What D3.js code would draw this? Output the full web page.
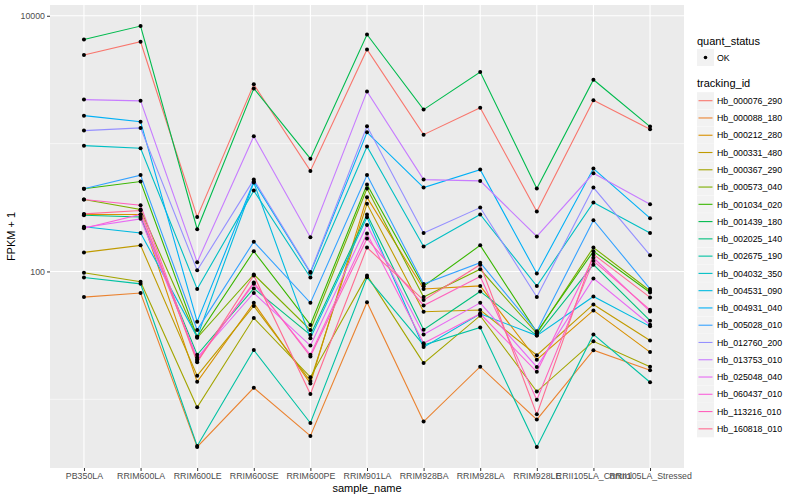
<!DOCTYPE html>
<meta charset="utf-8">

<!-- Load d3.js -->
<script src="https://d3js.org/d3.v7.min.js"></script>

<style>
  body { margin: 0; background: #fff; }
  text { font-family: "Liberation Sans", Arial, Helvetica, sans-serif; }
</style>

<!-- Create a div where the graph will take place -->
<div id="my_dataviz"></div>

<script>

// sample names on the x axis
var samples = ["PB350LA", "RRIM600LA", "RRIM600LE", "RRIM600SE", "RRIM600PE", "RRIM901LA",
               "RRIM928BA", "RRIM928LA", "RRIM928LE", "RRII105LA_Control", "RRII105LA_Stressed"];

// tracking ids (legend order)
var trackingIds = ["Hb_000076_290", "Hb_000088_180", "Hb_000212_280", "Hb_000331_480", "Hb_000367_290",
                   "Hb_000573_040", "Hb_001034_020", "Hb_001439_180", "Hb_002025_140", "Hb_002675_190",
                   "Hb_004032_350", "Hb_004531_090", "Hb_004931_040", "Hb_005028_010", "Hb_012760_200",
                   "Hb_013753_010", "Hb_025048_040", "Hb_060437_010", "Hb_113216_010", "Hb_160818_010"];

// FPKM + 1, one row per tracking id, one value per sample
var Hb_000076_290 = [4930, 6260, 267, 2910, 612, 5450, 1175, 1910, 294, 2180, 1294];
var Hb_000088_180 = [63, 67.9, 4.24, 12.3, 5.17, 57.5, 6.7, 18.0, 6.94, 24.2, 16.9];
var Hb_000212_280 = [279, 279, 13.7, 56.8, 13.3, 380, 73.0, 77.1, 20.4, 49.6, 23.4];
var Hb_000331_480 = [141, 160, 15.3, 53.7, 13.9, 338, 48.4, 50.0, 22.1, 55.2, 28.8];
var Hb_000367_290 = [97.7, 83.1, 8.66, 43.2, 14.9, 93.1, 19.2, 45.1, 11.5, 28.4, 18.0];
var Hb_000573_040 = [365, 305, 30.3, 94.8, 34.9, 445, 63.2, 104, 32.8, 154, 70.7];
var Hb_001034_020 = [443, 505, 30.8, 144, 38.2, 478, 76.7, 160, 33.4, 144, 68.5];
var Hb_001439_180 = [6530, 8310, 214, 2700, 763, 7140, 1845, 3630, 445, 3160, 1358];
var Hb_002025_140 = [275, 267, 22.3, 73.6, 31.9, 279, 35.0, 69.8, 31.5, 113, 41.2];
var Hb_002675_190 = [89.8, 80.0, 4.31, 24.3, 6.53, 90.0, 26.6, 36.5, 4.24, 32.2, 13.6];
var Hb_004032_350 = [964, 919, 73.0, 429, 89.8, 948, 157, 279, 77.0, 346, 200];
var Hb_004531_090 = [224, 200, 30.8, 496, 30.1, 265, 25.6, 46.7, 31.5, 63.7, 37.2];
var Hb_004931_040 = [1655, 1485, 40.5, 505, 97.7, 1225, 453, 626, 96.5, 638, 261];
var Hb_005028_010 = [443, 567, 34.9, 171, 56.8, 567, 79.8, 117, 34.0, 252, 73.0];
var Hb_012760_200 = [1264, 1327, 102, 523, 99, 1365, 200, 316, 63.2, 453, 134];
var Hb_013753_010 = [2210, 2160, 118, 1140, 185, 2560, 523, 511, 188, 586, 336];
var Hb_025048_040 = [221, 258, 21.2, 67.9, 26.3, 231, 32.2, 56.8, 17.9, 88.2, 38.3];
var Hb_060437_010 = [218, 279, 20.5, 80.0, 22.3, 198, 27.5, 46.7, 16.4, 128, 48.7];
var Hb_113216_010 = [365, 330, 19.9, 82.1, 21.6, 181, 54.2, 91.4, 9.9, 121, 50.1];
var Hb_160818_010 = [282, 300, 19.5, 93.1, 11.0, 154, 59.7, 113, 7.63, 136, 62.7];

var valueRows = [Hb_000076_290, Hb_000088_180, Hb_000212_280, Hb_000331_480, Hb_000367_290,
                 Hb_000573_040, Hb_001034_020, Hb_001439_180, Hb_002025_140, Hb_002675_190,
                 Hb_004032_350, Hb_004531_090, Hb_004931_040, Hb_005028_010, Hb_012760_200,
                 Hb_013753_010, Hb_025048_040, Hb_060437_010, Hb_113216_010, Hb_160818_010];

// default ggplot hue palette for 20 levels
var hueColors = ["#F8766D", "#EA8331", "#D89000", "#C09B00", "#A3A500", "#7CAE00", "#39B600",
                 "#00BB4E", "#00BF7D", "#00C1A3", "#00BFC4", "#00BAE0", "#00B0F6", "#35A2FF",
                 "#9590FF", "#C77CFF", "#E76BF3", "#FA62DB", "#FF62BC", "#FF6C91"];

var yMajor = [100, 10000];
var yMinor = [10, 1000];

// build series
var series = trackingIds.map(function(id, i) {
  return { id: id, values: samples.map(function(s, j) { return { sample: s, value: valueRows[i][j] }; }) };
});
var allPoints = [];
series.forEach(function(s) { s.values.forEach(function(p) { allPoints.push(p); }); });

// set the dimensions of the panel
var W = 800, H = 500;
var panel = {left: 50, right: 684, top: 5, bottom: 468};

var svg = d3.select("#my_dataviz")
  .append("svg")
    .attr("width", W)
    .attr("height", H);

// X scale (discrete, ggplot style expansion of 0.6)
var x = d3.scalePoint()
  .domain(samples)
  .range([panel.left, panel.right])
  .padding(0.6);

// Y scale: log10 with 5% expansion in log space
var ext = d3.extent(allPoints, function(d) { return Math.log10(d.value); });
var pad = (ext[1] - ext[0]) * 0.05;
var y = d3.scaleLog()
  .domain([Math.pow(10, ext[0] - pad), Math.pow(10, ext[1] + pad)])
  .range([panel.bottom, panel.top]);

// panel background
svg.append("rect")
  .attr("x", panel.left)
  .attr("y", panel.top)
  .attr("width", panel.right - panel.left)
  .attr("height", panel.bottom - panel.top)
  .attr("fill", "#EBEBEB");

// grid lines
svg.append("g").selectAll("line")
  .data(yMinor)
  .enter().append("line")
    .attr("x1", panel.left).attr("x2", panel.right)
    .attr("y1", function(d) { return y(d); })
    .attr("y2", function(d) { return y(d); })
    .attr("stroke", "#fff").attr("stroke-width", 0.55);

svg.append("g").selectAll("line")
  .data(yMajor)
  .enter().append("line")
    .attr("x1", panel.left).attr("x2", panel.right)
    .attr("y1", function(d) { return y(d); })
    .attr("y2", function(d) { return y(d); })
    .attr("stroke", "#fff").attr("stroke-width", 1.1);

svg.append("g").selectAll("line")
  .data(samples)
  .enter().append("line")
    .attr("x1", function(d) { return x(d); })
    .attr("x2", function(d) { return x(d); })
    .attr("y1", panel.top).attr("y2", panel.bottom)
    .attr("stroke", "#fff").attr("stroke-width", 1.1);

// lines
var line = d3.line()
  .x(function(d) { return x(d.sample); })
  .y(function(d) { return y(d.value); });

svg.append("g").selectAll("path")
  .data(series)
  .enter().append("path")
    .attr("fill", "none")
    .attr("stroke", function(d, i) { return hueColors[i]; })
    .attr("stroke-width", 1.1)
    .attr("d", function(d) { return line(d.values); });

// points (quant_status = OK)
svg.append("g").selectAll("circle")
  .data(allPoints)
  .enter().append("circle")
    .attr("cx", function(d) { return x(d.sample); })
    .attr("cy", function(d) { return y(d.value); })
    .attr("r", 2)
    .attr("fill", "#000");

// Y axis
var yAxis = svg.append("g")
  .attr("transform", "translate(" + panel.left + ",0)")
  .call(d3.axisLeft(y).tickValues(yMajor).tickFormat(d3.format("d")).tickSize(3).tickPadding(2));
yAxis.select(".domain").remove();
yAxis.selectAll("line").attr("stroke", "#333333").attr("stroke-width", 1);
yAxis.selectAll("text").attr("fill", "#4D4D4D").style("font-size", "8.8px")
  .style("font-family", "'Liberation Sans', Arial, sans-serif");

// X axis
var xAxis = svg.append("g")
  .attr("transform", "translate(0," + panel.bottom + ")")
  .call(d3.axisBottom(x).tickSize(3).tickPadding(2));
xAxis.select(".domain").remove();
xAxis.selectAll("line").attr("stroke", "#333333").attr("stroke-width", 1);
xAxis.selectAll("text").attr("fill", "#4D4D4D").style("font-size", "8.8px")
  .style("font-family", "'Liberation Sans', Arial, sans-serif");

// axis titles
svg.append("text")
  .attr("x", (panel.left + panel.right) / 2)
  .attr("y", 492)
  .attr("text-anchor", "middle")
  .style("font-size", "11px")
  .attr("fill", "#000")
  .text("sample_name");

svg.append("text")
  .attr("transform", "translate(15," + ((panel.top + panel.bottom) / 2) + ") rotate(-90)")
  .attr("text-anchor", "middle")
  .style("font-size", "11px")
  .attr("fill", "#000")
  .text("FPKM + 1");

// legend: quant_status
var lx = 697;
svg.append("text")
  .attr("x", lx).attr("y", 44.5)
  .style("font-size", "11px")
  .text("quant_status");
svg.append("rect")
  .attr("x", lx).attr("y", 49).attr("width", 17).attr("height", 17)
  .attr("fill", "#F2F2F2");
svg.append("circle")
  .attr("cx", lx + 8.5).attr("cy", 57.5).attr("r", 1.8).attr("fill", "#000");
svg.append("text")
  .attr("x", lx + 20).attr("y", 60.7)
  .style("font-size", "8.8px")
  .text("OK");

// legend: tracking_id
svg.append("text")
  .attr("x", lx).attr("y", 87)
  .style("font-size", "11px")
  .text("tracking_id");

var legend = svg.append("g").selectAll("g")
  .data(trackingIds)
  .enter().append("g")
    .attr("transform", function(d, i) { return "translate(" + lx + "," + (92.2 + i * 17.27) + ")"; });

legend.append("rect")
  .attr("width", 17).attr("height", 17)
  .attr("fill", "#F2F2F2");
legend.append("line")
  .attr("x1", 1.5).attr("x2", 15.5)
  .attr("y1", 8.5).attr("y2", 8.5)
  .attr("stroke", function(d, i) { return hueColors[i]; })
  .attr("stroke-width", 1.1);
legend.append("text")
  .attr("x", 20).attr("y", 11.7)
  .style("font-size", "8.8px")
  .text(function(d) { return d; });

</script>
